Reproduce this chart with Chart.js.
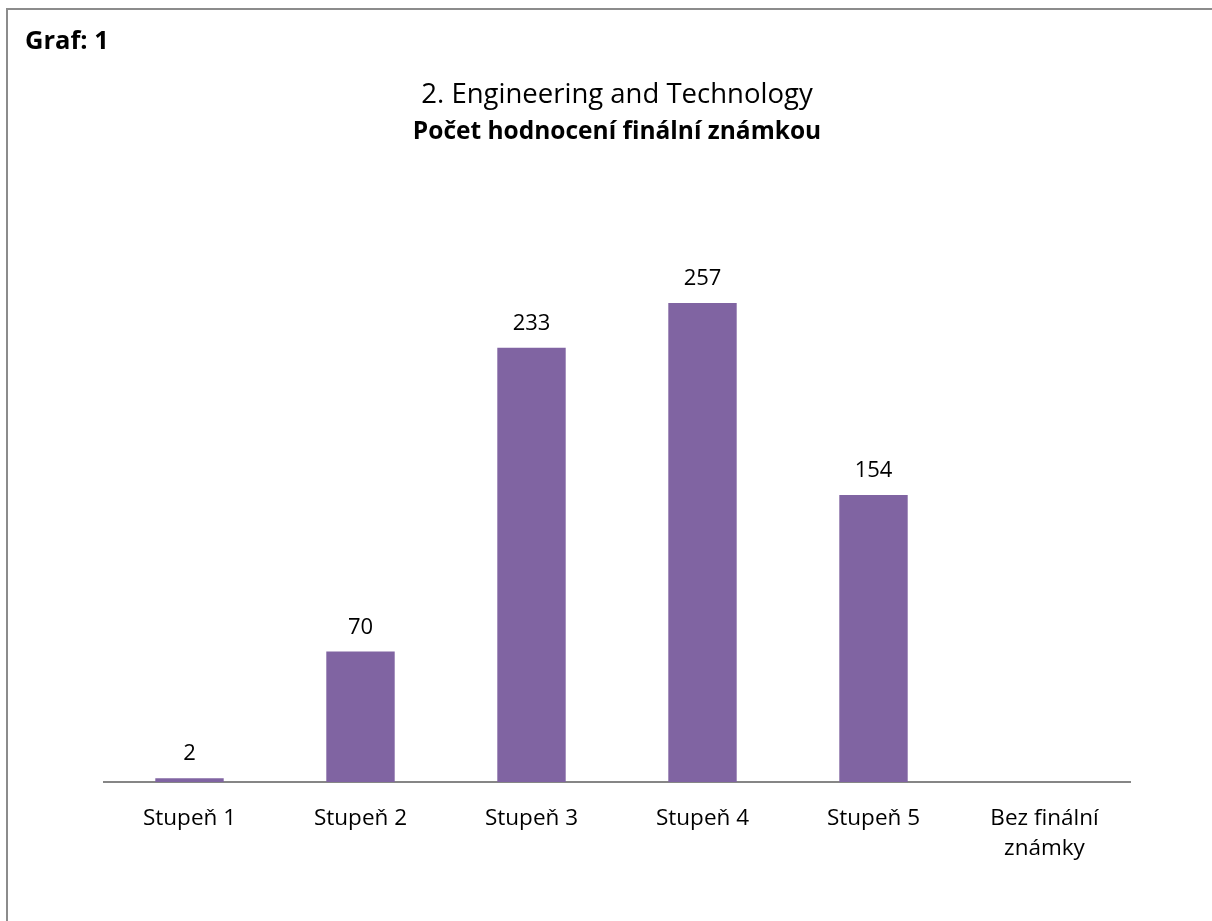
<!DOCTYPE html>
<html>
<head>
<meta charset="utf-8">
<script src="https://cdn.jsdelivr.net/npm/chart.js@4"></script>
<style>
  html, body { margin: 0; padding: 0; background: #fff; overflow: hidden; }
  #wrap { position: relative; width: 1212px; height: 921px; }
  #frame { position: absolute; left: 6px; top: 8px; width: 1400px; height: 1100px; border: 2px solid #8c8c8c; box-sizing: border-box; }
  #graf { position: absolute; left: 25px; top: 27px; font-family: "Open Sans", sans-serif; font-weight: bold; font-size: 25.5px; line-height: 25.5px; color: #000; white-space: nowrap; }
  canvas { position: absolute; left: 0; top: 0; }
</style>
</head>
<body>
<div id="wrap">
  <div id="frame"></div>
  <canvas id="c" width="1212" height="921" style="width:1212px;height:921px"></canvas>
  <div id="graf">Graf: 1</div>
</div>
<script>
const categories = ['Stupeň 1', 'Stupeň 2', 'Stupeň 3', 'Stupeň 4', 'Stupeň 5', ['Bez finální', 'známky']];
const counts = [2, 70, 233, 257, 154, null];
const titleText = '2. Engineering and Technology';
const subtitleText = 'Počet hodnocení finální známkou';
const yMin = 0;
const yMax = 300;

const valueLabels = {
  id: 'valueLabels',
  afterDatasetsDraw(chart) {
    const ctx = chart.ctx;
    const meta = chart.getDatasetMeta(0);
    ctx.save();
    ctx.font = '22px "Open Sans"';
    ctx.fillStyle = '#000';
    ctx.textAlign = 'center';
    ctx.textBaseline = 'alphabetic';
    meta.data.forEach((bar, i) => {
      const v = chart.data.datasets[0].data[i];
      if (v === null || v === undefined) return;
      ctx.fillText(String(v), bar.x, bar.y - 18);
    });
    ctx.restore();
  }
};

new Chart(document.getElementById('c'), {
  type: 'bar',
  data: {
    labels: categories,
    datasets: [{
      data: counts,
      backgroundColor: '#8064A2',
      borderWidth: 0,
      barPercentage: 0.4,
      categoryPercentage: 1.0
    }]
  },
  options: {
    responsive: false,
    animation: false,
    devicePixelRatio: 1,
    layout: { padding: { left: 104, right: 82, top: 0, bottom: 0 } },
    plugins: {
      legend: { display: false },
      tooltip: { enabled: false },
      title: {
        display: true,
        text: titleText,
        color: '#000',
        font: { family: '"Open Sans"', size: 27.5, weight: 'normal', lineHeight: 1.2 },
        padding: { top: 78.5, bottom: 0 }
      },
      subtitle: {
        display: true,
        text: subtitleText,
        color: '#000',
        font: { family: '"Open Sans"', size: 24.5, weight: 'bold', lineHeight: 1.2 },
        padding: { top: 5.8, bottom: 76.3 }
      }
    },
    scales: {
      x: {
        grid: { display: false },
        border: { display: true, color: '#868686', width: 2 },
        ticks: {
          color: '#000',
          font: { family: '"Open Sans"', size: 22.5, lineHeight: '30px' },
          padding: 14,
          maxRotation: 0,
          autoSkip: false
        },
        afterFit(scale) { scale.height = 139; }
      },
      y: {
        display: false,
        min: yMin,
        max: yMax
      }
    }
  },
  plugins: [valueLabels]
});
</script>
</body>
</html>
